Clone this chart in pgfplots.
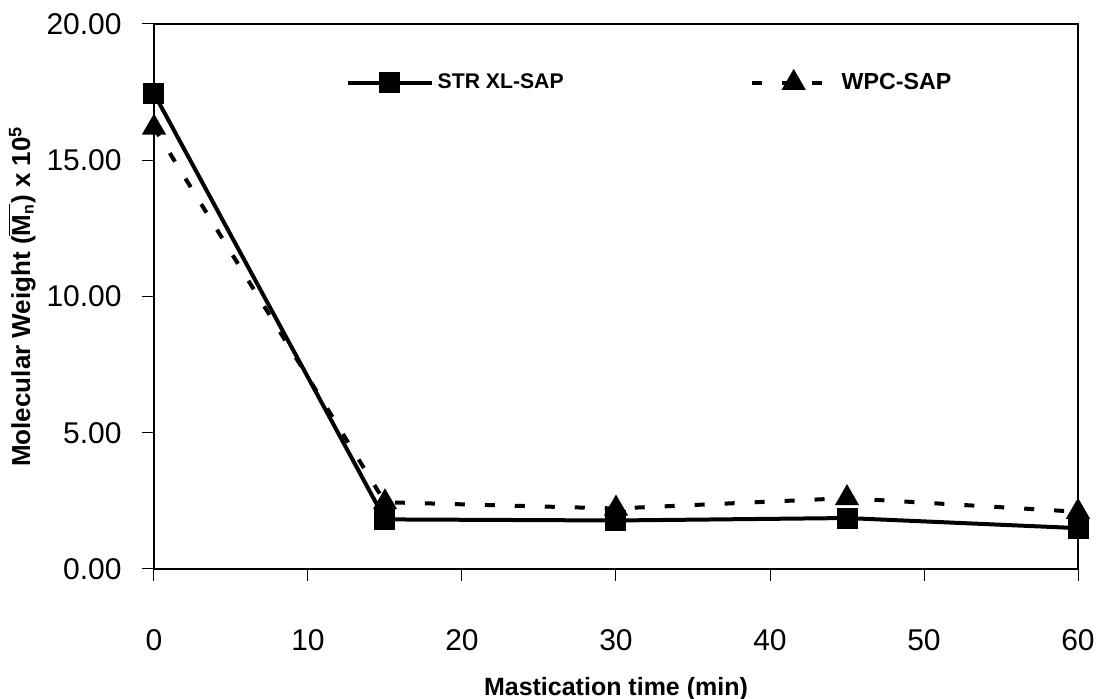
\documentclass[border=0pt]{standalone}
\usepackage{fontspec}
\setmainfont{Liberation Sans}
\usepackage{pgfplots}
\pgfplotsset{compat=1.18}
\begin{document}
\begin{tikzpicture}
\path[use as bounding box] (-77pt,-65pt) rectangle (471pt,284.5pt);
\begin{axis}[
  scale only axis,
  width=462pt, height=272.5pt,
  anchor=south west, at={(0,0)},
  xmin=0, xmax=60, ymin=0, ymax=20,
  xtick={0,10,20,30,40,50,60},
  ytick={0,5,10,15,20},
  tick align=outside,
  tick pos=left,
  major tick length=6pt,
  every tick/.style={line width=0.5pt, black},
  axis line style={line width=1pt},
  /pgf/number format/assume math mode=true,
  yticklabel={\pgfmathprintnumber[fixed,fixed zerofill,precision=2]{\tick}},
  ticklabel style={font=\fontsize{15}{18}\selectfont},
  yticklabel style={inner sep=0pt, xshift=-10pt},
  xticklabel style={anchor=base, inner sep=0pt, yshift=-35pt},
  xlabel={\textbf{Mastication time (min)}},
  xlabel style={font=\fontsize{12.5}{15}\selectfont, at={(axis description cs:0.5,0)}, anchor=base, inner sep=0pt, yshift=-63.5pt},
  ylabel={\textbf{Molecular Weight ($\overline{\mbox{M}_{\mbox{\fontsize{8}{9}\selectfont\bfseries n}}}$) x 10$^{\mbox{\fontsize{9}{10}\selectfont\bfseries 5}}$}},
  ylabel style={font=\fontsize{13}{15}\selectfont, at={(axis description cs:-0.143,0.5)}, anchor=center},
  legend columns=2,
  legend style={draw=none, fill=none, at={(axis description cs:0.207,0.892)}, anchor=west, font=\fontsize{10.6}{13}\selectfont\bfseries, inner sep=0pt},
  /tikz/every even column/.append style={column sep=91pt},
  legend image code/.code={\draw[mark repeat=2,mark phase=2] plot coordinates {(0pt,0pt) (21pt,0pt) (42pt,0pt)};},
]
\addplot[black, line width=2pt, mark=square*, mark size=4.25pt, mark options={solid}]
  coordinates {(0,17.45) (15,1.82) (30,1.78) (45,1.87) (60,1.5)};
\addlegendentry{STR XL-SAP}
\addplot[black, line width=2pt, dash pattern=on 5pt off 10pt, mark=triangle*, mark size=5pt, mark options={solid}]
  coordinates {(0,16.2) (15,2.45) (30,2.22) (45,2.6) (60,2.1)};
\addlegendentry{\fontsize{11.6}{13}\selectfont WPC-SAP}
\end{axis}
\end{tikzpicture}
\end{document}
